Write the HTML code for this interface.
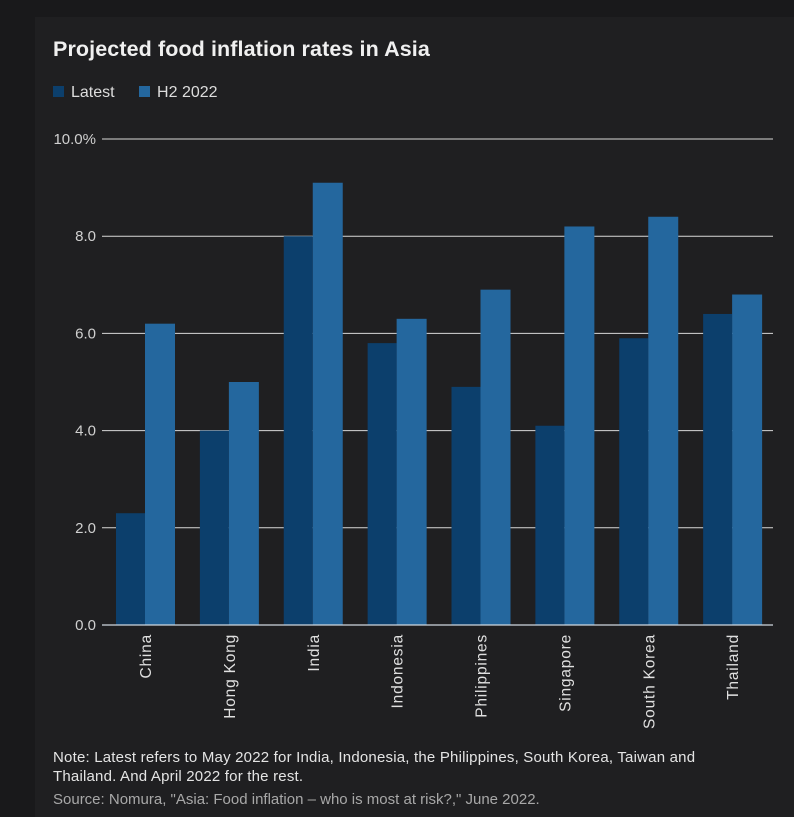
<!DOCTYPE html>
<html><head><meta charset="utf-8"><style>
body{margin:0;width:794px;height:817px;background:#19191b;overflow:hidden;font-family:"Liberation Sans",sans-serif;}
#panel{position:absolute;left:35px;top:17px;width:759px;height:800px;background:#1f1f21;}
.t{position:absolute;color:#e8e8e8;}
</style></head><body>
<div id="panel"></div>
<div class="t" style="left:53px;top:37px;font-size:21.5px;font-weight:bold;color:#f0f0f0;letter-spacing:0.1px;">Projected food inflation rates in Asia</div>
<div style="position:absolute;left:53px;top:84px;font-size:16px;color:#ddd;">
<span><span style="display:inline-block;width:11px;height:11px;background:#0c3f6c;margin-right:7px;"></span>Latest</span>
<span style="margin-left:20px;"><span style="display:inline-block;width:11px;height:11px;background:#24679e;margin-right:7px;"></span>H2 2022</span>
</div>
<svg id="chart" width="794" height="817" style="position:absolute;left:0;top:0"></svg>
<div class="t" style="left:53px;top:748px;font-size:15px;line-height:19px;color:#e4e4e4;letter-spacing:0.2px;">Note: Latest refers to May 2022 for India, Indonesia, the Philippines, South Korea, Taiwan and<br>Thailand. And April 2022 for the rest.</div>
<div class="t" style="left:53px;top:791px;font-size:15px;color:#a8a8a8;">Source: Nomura, "Asia: Food inflation – who is most at risk?," June 2022.</div>
<script>
const categories=["China","Hong Kong","India","Indonesia","Philippines","Singapore","South Korea","Thailand"];
const latest=[2.3,4.0,8.0,5.8,4.9,4.1,5.9,6.4];
const h2=[6.2,5.0,9.1,6.3,6.9,8.2,8.4,6.8];
const ticks=[0,2,4,6,8,10];
const tickLabels=["0.0","2.0","4.0","6.0","8.0","10.0%"];
const svg=document.getElementById('chart');const NS="http://www.w3.org/2000/svg";
const x0=102,x1=773,y0=625,y1=139;
const yS=v=>y0-(y0-y1)*v/10;
const gw=(x1-x0)/categories.length;
function mk(t,a){const e=document.createElementNS(NS,t);for(const k in a)e.setAttribute(k,a[k]);svg.appendChild(e);return e;}
ticks.forEach((v,i)=>{
 const l=mk('line',{x1:x0,x2:x1,y1:yS(v),y2:yS(v),stroke:i==0?'#cfd8e0':'#d8d8d8','stroke-width':1});
 
 
 const t=mk('text',{x:96,y:yS(v)+5,'text-anchor':'end','font-size':15,fill:'#d0d0d0','font-family':'Liberation Sans'});
 t.textContent=tickLabels[i];
 
 
});
const bw=29,pad=14;
categories.forEach((c,i)=>{
 const gx=x0+i*gw;
 const b1=mk('rect',{x:gx+pad,y:yS(latest[i]),width:bw,height:y0-yS(latest[i]),fill:'#0c3f6c'});
 
 
 const b2=mk('rect',{x:gx+pad+bw,y:yS(h2[i]),width:bw+1,height:y0-yS(h2[i]),fill:'#24679e'});
 
 
 const cx=gx+pad+bw+6;
 const t=mk('text',{x:0,y:0,'text-anchor':'end','font-size':15.5,fill:'#e0e0e0','font-family':'Liberation Sans','letter-spacing':'0.8',transform:`translate(${cx},634) rotate(-90)`});
 t.textContent=c;
 
 
});
mk('line',{x1:x0,x2:x1,y1:y0,y2:y0,stroke:'#cfd8e0','stroke-width':1.2});
</script>
</body></html>
